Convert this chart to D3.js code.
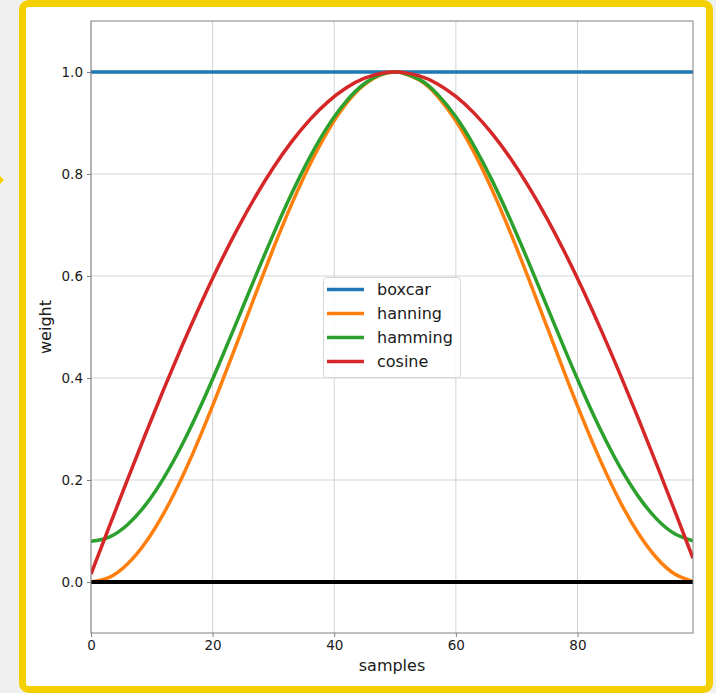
<!DOCTYPE html>
<html>
<head>
<meta charset="UTF-8">
<script src="https://cdn.jsdelivr.net/npm/d3@7"></script>
<style>
  html, body { margin: 0; padding: 0; background: #f0f0f0; }
  svg { display: block; font-family: "DejaVu Sans", sans-serif; }
</style>
</head>
<body>
<svg id="chart" width="716" height="693"></svg>
<script>
// sample positions and window weights
var samples = [0, 3, 6, 9, 12, 15, 18, 21, 24, 27, 30, 33, 36, 39, 42, 45, 48, 50,
               51, 54, 57, 60, 63, 66, 69, 72, 75, 78, 81, 84, 87, 90, 93, 96, 99];
var boxcar  = [1, 1, 1, 1, 1, 1, 1, 1, 1, 1, 1, 1, 1, 1, 1, 1, 1, 1,
               1, 1, 1, 1, 1, 1, 1, 1, 1, 1, 1, 1, 1, 1, 1, 1, 1];
var hanning = [0, 0.0089, 0.0351, 0.0778, 0.1355, 0.2061, 0.2871, 0.3757, 0.4686, 0.5627,
               0.6545, 0.7409, 0.8187, 0.8853, 0.9382, 0.9755, 0.9961, 1.0,
               0.9990, 0.9843, 0.9524, 0.9045, 0.8423, 0.7679, 0.6841, 0.5937, 0.5,
               0.4063, 0.3159, 0.2321, 0.1577, 0.0955, 0.0476, 0.0157, 0.0010];
var hamming = [0.08, 0.0882, 0.1123, 0.1516, 0.2047, 0.2696, 0.3441, 0.4256, 0.5111, 0.5977,
               0.6822, 0.7616, 0.8332, 0.8944, 0.9431, 0.9775, 0.9964, 1.0,
               0.9991, 0.9856, 0.9562, 0.9122, 0.8549, 0.7865, 0.7093, 0.6262, 0.54,
               0.4538, 0.3707, 0.2935, 0.2251, 0.1679, 0.1238, 0.0945, 0.0809];
var cosine  = [0.0156, 0.1087, 0.2008, 0.2912, 0.3791, 0.4637, 0.5442, 0.6200, 0.6904, 0.7548,
               0.8127, 0.8634, 0.9067, 0.9420, 0.9692, 0.9879, 0.9981, 1.0,
               0.9995, 0.9923, 0.9764, 0.9520, 0.9194, 0.8787, 0.8304, 0.7749, 0.7126,
               0.6441, 0.5700, 0.4910, 0.4077, 0.3208, 0.2312, 0.1395, 0.0466];
var seriesNames = ["boxcar", "hanning", "hamming", "cosine"];
var xTicks = [0, 20, 40, 60, 80];
var yTicks = [0.0, 0.2, 0.4, 0.6, 0.8, 1.0];

var colors = { boxcar: "#1f77b4", hanning: "#ff7f0e", hamming: "#2ca02c", cosine: "#d62728" };
var values = { boxcar: boxcar, hanning: hanning, hamming: hamming, cosine: cosine };

var svg = d3.select("#chart");

// yellow frame
svg.append("rect")
  .attr("x", 22.5).attr("y", 3.5)
  .attr("width", 687).attr("height", 686)
  .attr("rx", 6)
  .attr("fill", "#fff")
  .attr("stroke", "#f4d000")
  .attr("stroke-width", 7);
// little mark on the left edge
svg.append("path")
  .attr("d", "M0,176 L4,180 L0,184 Z")
  .attr("fill", "#f4d000");

// plot box (window.top is read-only, so no plain "top")
var pLeft = 91, pRight = 693, pTop = 21, pBottom = 633;

var x = d3.scaleLinear().domain([0, 99]).range([pLeft, pRight]);
var y = d3.scaleLinear().domain([-0.1, 1.1]).range([pBottom, pTop]);

// grid
var g = svg.append("g");
g.selectAll(".gx").data(xTicks).enter().append("line")
  .attr("x1", d => x(d)).attr("x2", d => x(d))
  .attr("y1", pTop).attr("y2", pBottom)
  .attr("stroke", "#d3d3d3").attr("stroke-width", 1);
g.selectAll(".gy").data(yTicks).enter().append("line")
  .attr("x1", pLeft).attr("x2", pRight)
  .attr("y1", d => y(d)).attr("y2", d => y(d))
  .attr("stroke", "#d3d3d3").attr("stroke-width", 1);

// clip
svg.append("clipPath").attr("id", "clip")
  .append("rect").attr("x", pLeft).attr("y", pTop)
  .attr("width", pRight - pLeft).attr("height", pBottom - pTop);

var line = d3.line()
  .x((d, i) => x(samples[i]))
  .y(d => y(d))
  .curve(d3.curveNatural);

var plot = svg.append("g").attr("clip-path", "url(#clip)");
seriesNames.forEach(function(name) {
  plot.append("path")
    .datum(values[name])
    .attr("d", line)
    .attr("fill", "none")
    .attr("stroke", colors[name])
    .attr("stroke-width", 3.5);
});
// zero line
plot.append("line")
  .attr("x1", x(0)).attr("x2", x(99))
  .attr("y1", y(0)).attr("y2", y(0))
  .attr("stroke", "#000").attr("stroke-width", 4);

// axes
var xAxis = d3.axisBottom(x).tickValues(xTicks).tickFormat(d3.format("d")).tickSizeOuter(0).tickSize(4).tickPadding(3);
var yAxis = d3.axisLeft(y).tickValues(yTicks).tickFormat(d3.format(".1f")).tickSizeOuter(0).tickSize(4).tickPadding(4);

var gx = svg.append("g").attr("transform", "translate(0," + pBottom + ")").call(xAxis);
var gy = svg.append("g").attr("transform", "translate(" + pLeft + ",0)").call(yAxis);
[gx, gy].forEach(function(a) {
  a.select(".domain").remove();
  a.selectAll(".tick line").attr("stroke", "#808080");
  a.selectAll(".tick text").attr("fill", "#1a1a1a").style("font-size", "13.5px").style("font-family", "DejaVu Sans");
});

// spines
svg.append("rect")
  .attr("x", pLeft).attr("y", pTop)
  .attr("width", pRight - pLeft).attr("height", pBottom - pTop)
  .attr("fill", "none").attr("stroke", "#808080").attr("stroke-width", 1);

// axis labels
svg.append("text")
  .attr("x", (pLeft + pRight) / 2).attr("y", 671)
  .attr("text-anchor", "middle")
  .style("font-size", "16px").attr("fill", "#1a1a1a")
  .text("samples");
svg.append("text")
  .attr("transform", "translate(51," + ((pTop + pBottom) / 2) + ") rotate(-90)")
  .attr("text-anchor", "middle")
  .style("font-size", "16px").attr("fill", "#1a1a1a")
  .text("weight");

// legend
var leg = svg.append("g").attr("transform", "translate(323,277)");
leg.append("rect")
  .attr("x", 0.5).attr("y", 0.5).attr("width", 137).attr("height", 100)
  .attr("rx", 3)
  .attr("fill", "#fff").attr("fill-opacity", 0.85)
  .attr("stroke", "#d6d6d6");
seriesNames.forEach(function(name, i) {
  var yy = 12.5 + i * 24;
  leg.append("line")
    .attr("x1", 4).attr("x2", 41)
    .attr("y1", yy).attr("y2", yy)
    .attr("stroke", colors[name]).attr("stroke-width", 3.5);
  leg.append("text")
    .attr("x", 54).attr("y", yy + 5.5)
    .style("font-size", "16px").attr("fill", "#1a1a1a")
    .text(name);
});
</script>
</body>
</html>
